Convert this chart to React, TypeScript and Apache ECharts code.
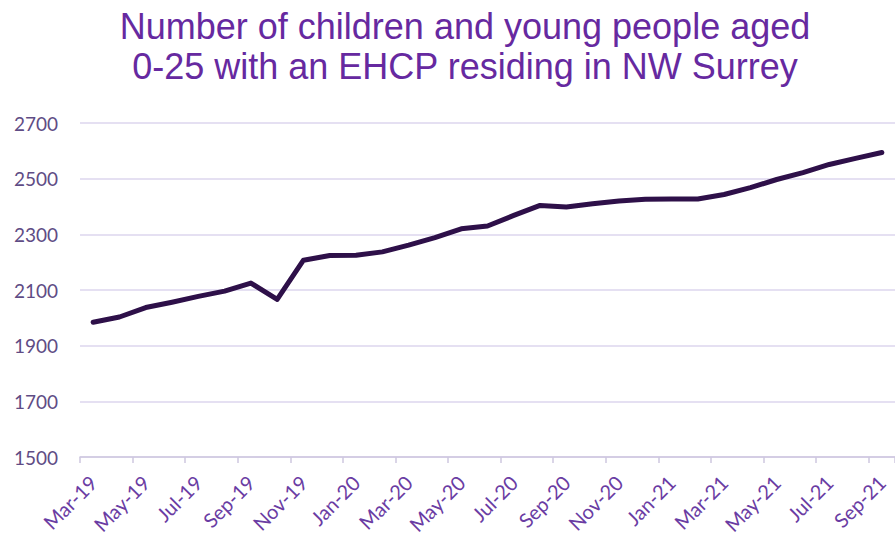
import React, { useEffect, useRef } from "react";
import * as echarts from "echarts";

const titleLines = [
  "Number of children and young people aged",
  "0-25 with an EHCP residing in NW Surrey",
];

const months = [
  "Mar-19", "Apr-19", "May-19", "Jun-19", "Jul-19", "Aug-19", "Sep-19", "Oct-19",
  "Nov-19", "Dec-19", "Jan-20", "Feb-20", "Mar-20", "Apr-20", "May-20", "Jun-20",
  "Jul-20", "Aug-20", "Sep-20", "Oct-20", "Nov-20", "Dec-20", "Jan-21", "Feb-21",
  "Mar-21", "Apr-21", "May-21", "Jun-21", "Jul-21", "Aug-21", "Sep-21",
];

const ehcpCounts = [
  1984, 2003, 2037, 2056, 2077, 2096, 2125, 2066,
  2207, 2224, 2225, 2237, 2261, 2288, 2320, 2330,
  2368, 2404, 2398, 2410, 2420, 2426, 2427, 2427,
  2443, 2468, 2497, 2522, 2551, 2573, 2594,
];

const yMin = 1500;
const yMax = 2700;
const yStep = 200;

export default function App() {
  const ref = useRef<HTMLDivElement>(null);

  useEffect(() => {
    if (!ref.current) return;
    const chart = echarts.init(ref.current, null, { renderer: "svg" });
    const titleFont = "36px 'Liberation Sans', Arial, sans-serif";
    chart.setOption({
      animation: false,
      backgroundColor: "#ffffff",
      graphic: [
        {
          type: "text",
          x: 465,
          y: 26,
          style: {
            text: titleLines[0],
            fill: "#6629a0",
            font: titleFont,
            textAlign: "center",
            textVerticalAlign: "middle",
          },
        },
        {
          type: "text",
          x: 465,
          y: 66,
          style: {
            text: titleLines[1],
            fill: "#6629a0",
            font: titleFont,
            textAlign: "center",
            textVerticalAlign: "middle",
          },
        },
      ],
      grid: {
        left: 80,
        right: -10,
        top: 123,
        bottom: 85,
        containLabel: false,
      },
      xAxis: {
        type: "category",
        data: months,
        boundaryGap: true,
        axisLine: { show: true, lineStyle: { color: "#cec7df", width: 1.5 } },
        axisTick: { show: true, interval: 1, length: 6, lineStyle: { color: "#cec7df", width: 1.5 } },
        axisLabel: {
          interval: 1,
          rotate: 45,
          margin: 22,
          color: "#6a3ca3",
          fontSize: 20,
          fontFamily: "Lato, 'Open Sans', sans-serif",
        },
        splitLine: { show: false },
      },
      yAxis: {
        type: "value",
        min: yMin,
        max: yMax,
        interval: yStep,
        axisLine: { show: false },
        axisTick: { show: false },
        axisLabel: {
          margin: 22,
          color: "#5f4c85",
          fontSize: 19,
          fontFamily: "Lato, 'Open Sans', sans-serif",
          formatter: (v: number) => String(v),
        },
        splitLine: { show: true, lineStyle: { color: "#dcd6ee", width: 1.5 } },
      },
      series: [
        {
          type: "line",
          data: ehcpCounts,
          showSymbol: false,
          symbol: "none",
          smooth: false,
          lineStyle: { color: "#2e1049", width: 5, cap: "round", join: "round" },
        },
      ],
    });
    return () => chart.dispose();
  }, []);

  return (
    <div
      ref={ref}
      style={{ position: "fixed", left: 0, top: 0, width: 895, height: 542 }}
    />
  );
}
